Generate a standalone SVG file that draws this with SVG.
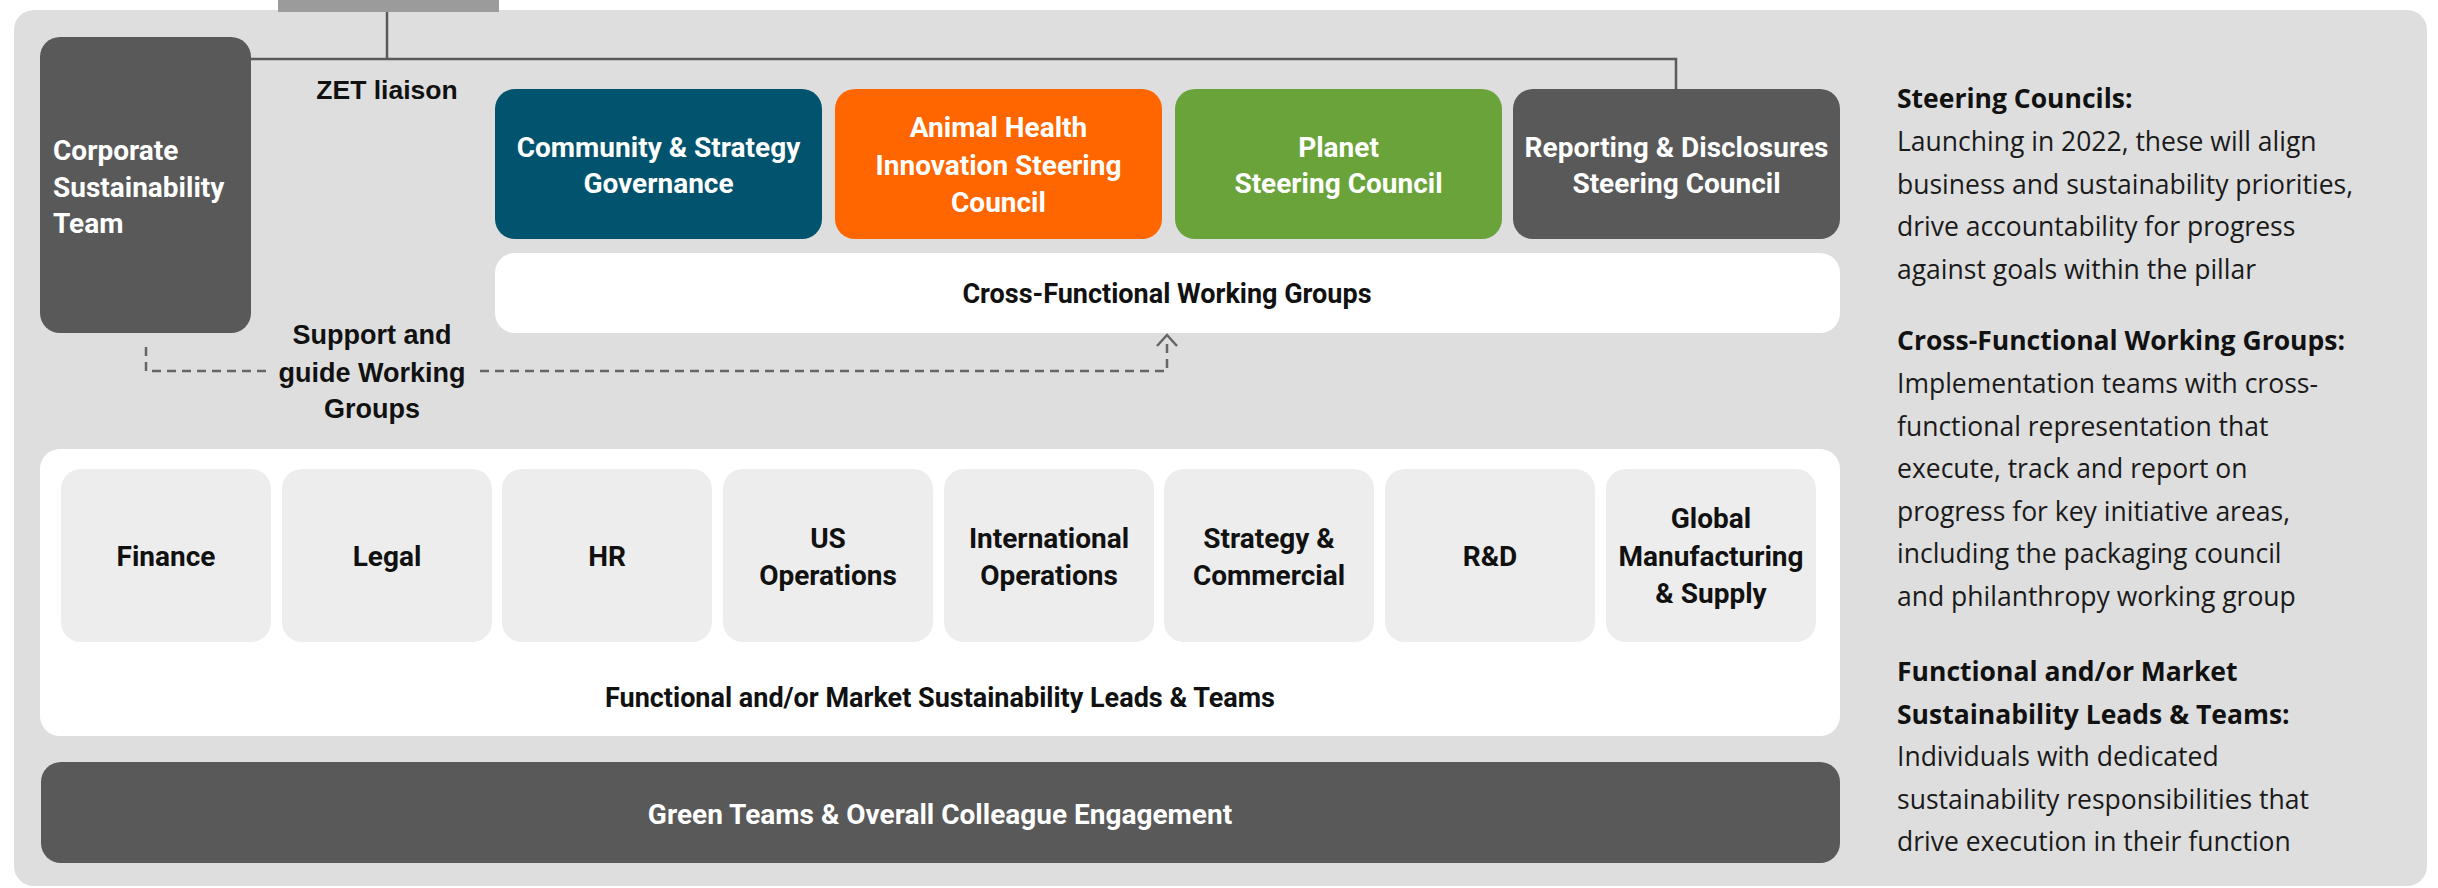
<svg xmlns="http://www.w3.org/2000/svg" width="2438" height="888" viewBox="0 0 2438 888">
<defs>
<style>
.panel{fill:#dedede}
.dark{fill:#595959}
.tile{fill:#ededed}
.wbox{fill:#ffffff}
.bt{font-family:Roboto,"Liberation Sans",Arial,sans-serif;font-weight:700;font-size:28px;text-anchor:middle}
.w{fill:#ffffff}
.k{fill:#111111}
.lbl{font-family:"Liberation Sans",Arial,sans-serif;font-weight:700;font-size:27px;fill:#111111;text-anchor:middle}
.desc{font-family:"Open Sans","Liberation Sans",Arial,sans-serif;font-size:26.5px;fill:#1a1a1a}
.desc .b{font-weight:700;fill:#111111}
.solid{fill:none;stroke:#5a5a5a;stroke-width:2.5}
.dash{fill:none;stroke:#666666;stroke-width:2.5;stroke-dasharray:9 6}
.head{fill:none;stroke:#666666;stroke-width:2.5;stroke-linejoin:miter}
</style>
</defs>
<rect x="0" y="0" width="2438" height="888" fill="#ffffff"/>
<rect class="panel" x="14" y="10" width="2413" height="876" rx="20"/>
<rect id="top-bar" x="278" y="0" width="221" height="12" fill="#9b9b9b"/>

<g id="connectors">
<path class="solid" d="M387 12 V59 M251 59 H1676 V89"/>
<path class="dash" d="M146 347 V371 H267 M480 371 H1167 V338"/>
<path class="head" d="M1157 346 L1167 335 L1177 346"/>
</g>

<g id="corporate-sustainability-team">
<rect class="dark" x="40" y="37" width="211" height="296" rx="20"/>
<text class="bt w" text-anchor="start" style="text-anchor:start"><tspan x="53" y="160">Corporate</tspan><tspan x="53" y="197">Sustainability</tspan><tspan x="53" y="233">Team</tspan></text>
</g>

<g id="zet-liaison-label">
<text class="lbl" x="387" y="99" style="font-size:26.5px">ZET liaison</text>
</g>

<g id="community-strategy">
<rect x="495" y="89" width="327" height="150" rx="20" fill="#02546e"/>
<text class="bt w"><tspan x="658.5" y="157">Community &amp; Strategy</tspan><tspan x="658.5" y="193">Governance</tspan></text>
</g>

<g id="animal-health">
<rect x="835" y="89" width="327" height="150" rx="20" fill="#ff6600"/>
<text class="bt w"><tspan x="998.5" y="137">Animal Health</tspan><tspan x="998.5" y="175">Innovation Steering</tspan><tspan x="998.5" y="212">Council</tspan></text>
</g>

<g id="planet">
<rect x="1175" y="89" width="327" height="150" rx="20" fill="#6ba33b"/>
<text class="bt w"><tspan x="1338.5" y="157">Planet</tspan><tspan x="1338.5" y="193">Steering Council</tspan></text>
</g>

<g id="reporting-disclosures">
<rect class="dark" x="1513" y="89" width="327" height="150" rx="20"/>
<text class="bt w"><tspan x="1676.5" y="157">Reporting &amp; Disclosures</tspan><tspan x="1676.5" y="193">Steering Council</tspan></text>
</g>

<g id="cross-functional-working-groups">
<rect class="wbox" x="495" y="253" width="1345" height="80" rx="20"/>
<text class="bt k" x="1167" y="303" style="font-size:27px">Cross-Functional Working Groups</text>
</g>

<g id="support-label">
<text class="lbl"><tspan x="372" y="344">Support and</tspan><tspan x="372" y="382">guide Working</tspan><tspan x="372" y="418">Groups</tspan></text>
</g>

<g id="functional-leads">
<rect class="wbox" x="40" y="449" width="1800" height="287" rx="20"/>
<text class="bt k" x="940" y="707" style="font-size:27px">Functional and/or Market Sustainability Leads &amp; Teams</text>
</g>

<g id="tile-finance"><rect class="tile" x="61" y="469" width="210" height="173" rx="20"/><text class="bt k" x="166" y="566">Finance</text></g>
<g id="tile-legal"><rect class="tile" x="282" y="469" width="210" height="173" rx="20"/><text class="bt k" x="387" y="566">Legal</text></g>
<g id="tile-hr"><rect class="tile" x="502" y="469" width="210" height="173" rx="20"/><text class="bt k" x="607" y="566">HR</text></g>
<g id="tile-us"><rect class="tile" x="723" y="469" width="210" height="173" rx="20"/><text class="bt k"><tspan x="828" y="548">US</tspan><tspan x="828" y="585">Operations</tspan></text></g>
<g id="tile-international"><rect class="tile" x="944" y="469" width="210" height="173" rx="20"/><text class="bt k"><tspan x="1049" y="548">International</tspan><tspan x="1049" y="585">Operations</tspan></text></g>
<g id="tile-strategy"><rect class="tile" x="1164" y="469" width="210" height="173" rx="20"/><text class="bt k"><tspan x="1269" y="548">Strategy &amp;</tspan><tspan x="1269" y="585">Commercial</tspan></text></g>
<g id="tile-rd"><rect class="tile" x="1385" y="469" width="210" height="173" rx="20"/><text class="bt k" x="1490" y="566">R&amp;D</text></g>
<g id="tile-global"><rect class="tile" x="1606" y="469" width="210" height="173" rx="20"/><text class="bt k"><tspan x="1711" y="528">Global</tspan><tspan x="1711" y="566">Manufacturing</tspan><tspan x="1711" y="603">&amp; Supply</tspan></text></g>

<g id="green-teams">
<rect class="dark" x="41" y="762" width="1799" height="101" rx="20"/>
<text class="bt w" x="940" y="824">Green Teams &amp; Overall Colleague Engagement</text>
</g>

<g id="legend-text" class="desc">
<text class="b" x="1897" y="108">Steering Councils:</text>
<text x="1897" y="151">Launching in 2022, these will align</text>
<text x="1897" y="193.5">business and sustainability priorities,</text>
<text x="1897" y="236">drive accountability for progress</text>
<text x="1897" y="278.5">against goals within the pillar</text>
<text class="b" x="1897" y="350">Cross-Functional Working Groups:</text>
<text x="1897" y="393">Implementation teams with cross-</text>
<text x="1897" y="435.5">functional representation that</text>
<text x="1897" y="478">execute, track and report on</text>
<text x="1897" y="520.5">progress for key initiative areas,</text>
<text x="1897" y="563">including the packaging council</text>
<text x="1897" y="605.5">and philanthropy working group</text>
<text class="b" x="1897" y="681">Functional and/or Market</text>
<text class="b" x="1897" y="723.5">Sustainability Leads &amp; Teams:</text>
<text x="1897" y="766">Individuals with dedicated</text>
<text x="1897" y="808.5">sustainability responsibilities that</text>
<text x="1897" y="851">drive execution in their function</text>
</g>
</svg>
